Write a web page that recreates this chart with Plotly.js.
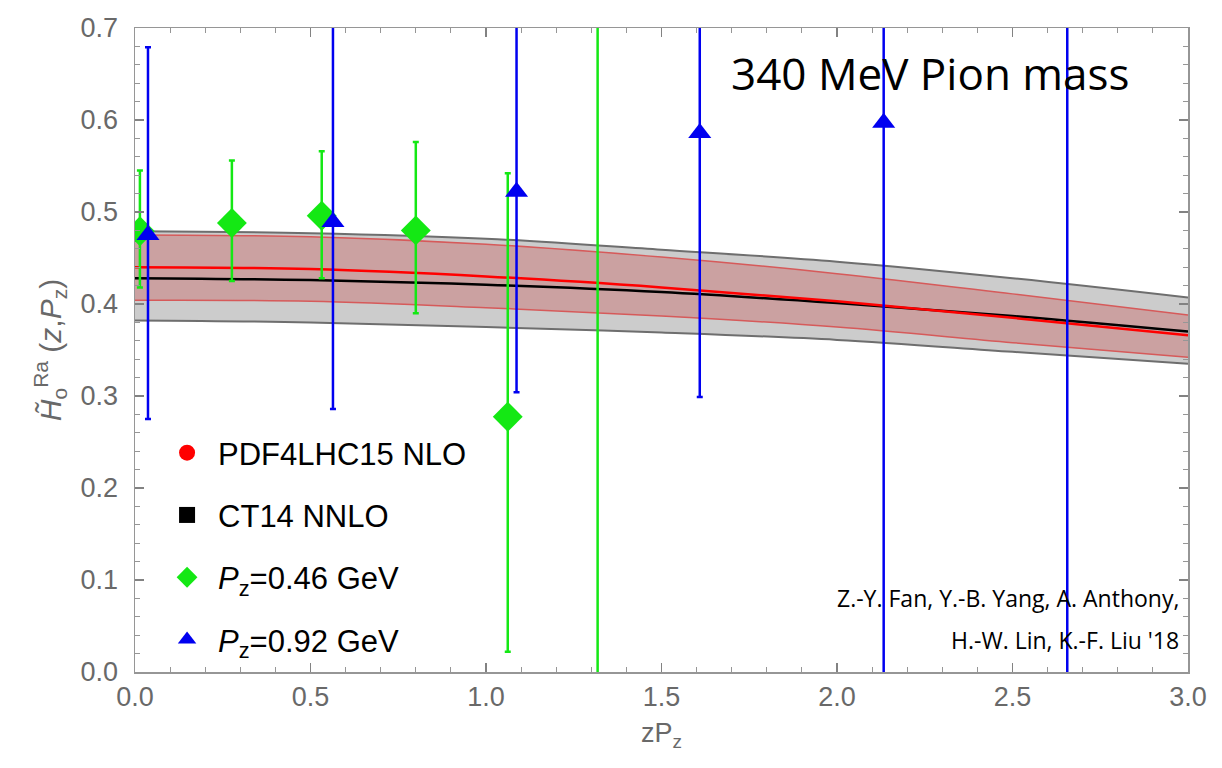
<!DOCTYPE html>
<html>
<head>
<meta charset="utf-8">
<script src="https://cdn.plot.ly/plotly-3.0.1.min.js"></script>
<style>html,body{margin:0;padding:0;background:#fff;}#chart{width:1222px;height:768px;}</style>
</head>
<body>
<div id="chart"></div>
<script>
// Band curves (zP_z grid)
const bandX = [0, 0.5, 1, 1.5, 2, 2.5, 3];
const ct14Upper = [0.479, 0.477, 0.471, 0.459, 0.446, 0.428, 0.407];
const ct14Center = [0.428, 0.426, 0.421, 0.413, 0.401, 0.387, 0.370];
const ct14Lower = [0.382, 0.380, 0.375, 0.369, 0.361, 0.348, 0.335];
const pdfUpper = [0.475, 0.473, 0.465, 0.451, 0.433, 0.411, 0.388];
const pdfCenter = [0.440, 0.438, 0.430, 0.418, 0.403, 0.385, 0.366];
const pdfLower = [0.404, 0.403, 0.396, 0.387, 0.375, 0.358, 0.342];

// Lattice data, P_z = 0.46 GeV
const g46X = [0.014, 0.276, 0.532, 0.800, 1.062, 1.318];
const g46Y = [0.479, 0.488, 0.496, 0.480, 0.2775, 0.80];
const g46ErrUp = [0.066, 0.068, 0.070, 0.096, 0.2645, 1.2];
const g46ErrDown = [0.061, 0.063, 0.068, 0.090, 0.2555, 1.2];

// Lattice data, P_z = 0.92 GeV
const b92X = [0.037, 0.564, 1.087, 1.609, 2.133, 2.656];
const b92Y = [0.475, 0.489, 0.522, 0.586, 0.597, 0.85];
const b92ErrUp = [0.204, 0.26, 0.26, 0.30, 0.70, 1.2];
const b92ErrDown = [0.200, 0.203, 0.218, 0.287, 0.70, 1.2];

const GREEN = 'rgb(20,232,20)';
const BLUE = 'rgb(0,0,240)';
const GRAYFILL = 'rgb(204,204,204)';
const REDFILL = 'rgb(203,161,161)';

const traces = [
  {x: bandX, y: ct14Upper, mode: 'lines', line: {color: 'rgb(110,110,110)', width: 2, shape: 'spline'}, showlegend: false, hoverinfo: 'skip'},
  {x: bandX, y: ct14Lower, mode: 'lines', fill: 'tonexty', fillcolor: GRAYFILL, line: {color: 'rgb(110,110,110)', width: 2, shape: 'spline'}, showlegend: false, hoverinfo: 'skip'},
  {x: bandX, y: pdfUpper, mode: 'lines', line: {color: 'rgb(214,90,90)', width: 1.5, shape: 'spline'}, showlegend: false, hoverinfo: 'skip'},
  {x: bandX, y: pdfLower, mode: 'lines', fill: 'tonexty', fillcolor: REDFILL, line: {color: 'rgb(214,90,90)', width: 1.5, shape: 'spline'}, showlegend: false, hoverinfo: 'skip'},
  {x: bandX, y: ct14Center, mode: 'lines', line: {color: 'black', width: 2.5, shape: 'spline'}, showlegend: false},
  {x: bandX, y: pdfCenter, mode: 'lines', line: {color: 'rgb(255,0,0)', width: 2.5, shape: 'spline'}, showlegend: false},
  // legend entries for the bands
  {x: [null], y: [null], mode: 'markers', name: 'PDF4LHC15 NLO', marker: {symbol: 'circle', color: 'rgb(255,0,0)', size: 20}, legendgroup: 'a', legendrank: 1},
  {x: [null], y: [null], mode: 'markers', name: 'CT14 NNLO', marker: {symbol: 'square', color: 'black', size: 16}, legendgroup: 'b', legendrank: 2},
  {x: g46X, y: g46Y, mode: 'markers', name: '<i>P</i><sub>z</sub>=0.46 GeV', legendgroup: 'c', legendrank: 3,
   marker: {symbol: 'diamond', color: GREEN, size: 23},
   error_y: {type: 'data', symmetric: false, array: g46ErrUp, arrayminus: g46ErrDown, color: GREEN, thickness: 2.5, width: 3}},
  {x: b92X, y: b92Y, mode: 'markers', name: '<i>P</i><sub>z</sub>=0.92 GeV', legendgroup: 'd', legendrank: 4,
   marker: {symbol: 'triangle-up', color: BLUE, size: 20},
   error_y: {type: 'data', symmetric: false, array: b92ErrUp, arrayminus: b92ErrDown, color: BLUE, thickness: 2.5, width: 3}}
];

const tickFont = {family: 'Liberation Sans, Arial, sans-serif', size: 27, color: 'rgb(105,105,105)'};
const axisCommon = {
  showgrid: false, zeroline: false, showline: true, linecolor: 'rgb(150,150,150)', linewidth: 1.5,
  mirror: 'ticks', ticks: 'inside', ticklen: 9, tickwidth: 1.3, tickcolor: 'rgb(130,130,130)',
  tickfont: tickFont
};

const layout = {
  width: 1222, height: 768,
  margin: {l: 135, r: 34, t: 28, b: 96},
  paper_bgcolor: 'white', plot_bgcolor: 'white',
  showlegend: true,
  legend: {x: 0.02, y: 0.382, xanchor: 'left', yanchor: 'top', bgcolor: 'rgba(0,0,0,0)',
           font: {family: 'Liberation Sans, Arial, sans-serif', size: 31, color: 'black'},
           traceorder: 'grouped', tracegroupgap: 19, itemwidth: 52},
  xaxis: Object.assign({}, axisCommon, {
    range: [0, 3], dtick: 0.5, tick0: 0, tickformat: '.1f', ticklabelstandoff: 0,
    minor: {dtick: 0.1, ticks: 'inside', ticklen: 5, tickcolor: 'rgb(150,150,150)', tickwidth: 1},
    title: {text: 'zP<sub>z</sub>', font: {family: 'Liberation Sans, Arial, sans-serif', size: 27, color: 'rgb(105,105,105)'}, standoff: 12}
  }),
  yaxis: Object.assign({}, axisCommon, {
    range: [0, 0.7], dtick: 0.1, tick0: 0, tickformat: '.1f', ticklabelstandoff: 10,
    minor: {dtick: 0.02, ticks: 'inside', ticklen: 5, tickcolor: 'rgb(150,150,150)', tickwidth: 1},
    title: {text: '<i>H&#771;</i><sub>o</sub><sup>Ra</sup> (<i>z</i>,<i>P</i><sub>z</sub>)', font: {family: 'Liberation Sans, Arial, sans-serif', size: 30, color: 'rgb(105,105,105)'}, standoff: 10}
  }),
  annotations: [
    {xref: 'paper', yref: 'paper', x: 0.755, y: 0.93, xanchor: 'center', yanchor: 'middle', showarrow: false,
     text: '340 MeV Pion mass', font: {family: 'Open Sans, sans-serif', size: 44, color: 'black'}},
    {xref: 'paper', yref: 'paper', x: 0.993, y: 0.115, xanchor: 'right', yanchor: 'middle', align: 'right', showarrow: false,
     text: 'Z.-Y. Fan, Y.-B. Yang, A. Anthony,', font: {family: 'Open Sans, sans-serif', size: 23, color: 'black'}},
    {xref: 'paper', yref: 'paper', x: 0.993, y: 0.05, xanchor: 'right', yanchor: 'middle', align: 'right', showarrow: false,
     text: 'H.-W. Lin, K.-F. Liu \'18', font: {family: 'Open Sans, sans-serif', size: 23, color: 'black'}}
  ]
};

Plotly.newPlot('chart', traces, layout, {displayModeBar: false, staticPlot: true});
</script>
</body>
</html>
